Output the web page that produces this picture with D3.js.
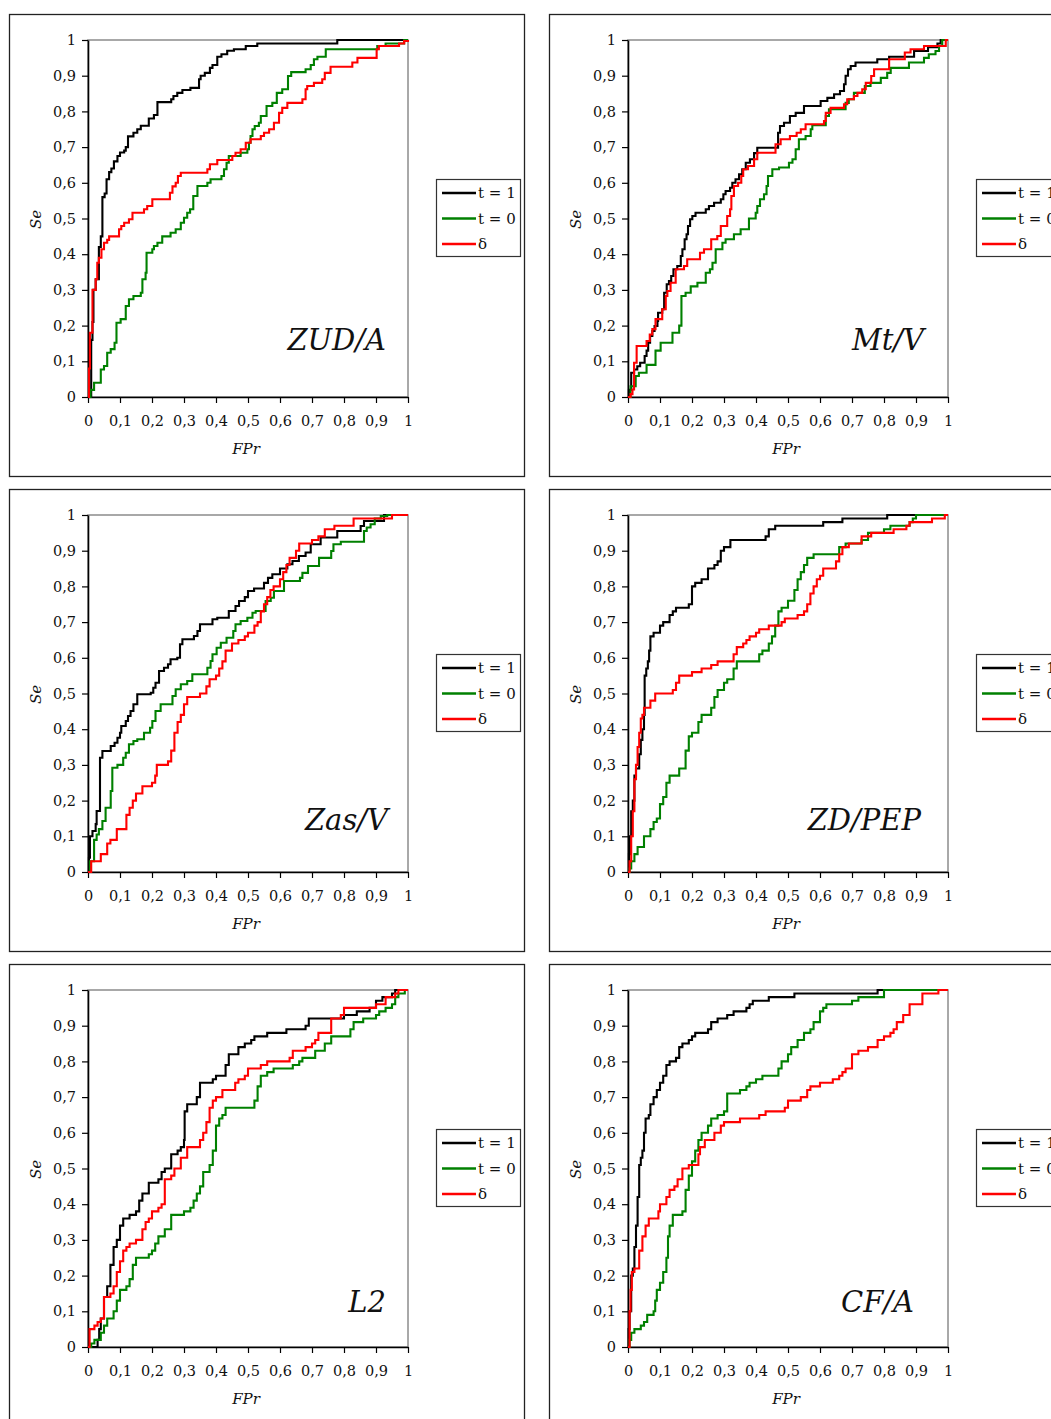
<!DOCTYPE html>
<html><head><meta charset="utf-8">
<script src="https://cdn.jsdelivr.net/npm/d3@7"></script>
<style>
html,body{margin:0;padding:0;background:#fff;}
svg{display:block;}
text{font-family:"DejaVu Serif",serif;fill:#111;}
</style></head>
<body><svg id="c" width="1051" height="1419"></svg>
<script>
// ---------- DATA ----------
const panelNames = ["ZUD/A","Mt/V","Zas/V","ZD/PEP","L2","CF/A"];
const seriesNames = ["t = 1","t = 0","\u03b4"];
const tickValues = [0,0.1,0.2,0.3,0.4,0.5,0.6,0.7,0.8,0.9,1];
const tickLabels = ["0","0,1","0,2","0,3","0,4","0,5","0,6","0,7","0,8","0,9","1"];
const xTitle = "FPr", yTitle = "Se";

// each point: [FPr, Se] where Se steps up at that FPr
const zudA_t1 = [[0,0],[0.010,0.16],[0.014,0.21],[0.017,0.30],[0.024,0.33],[0.034,0.42],[0.040,0.45],[0.045,0.56],[0.052,0.57],[0.058,0.61],[0.066,0.63],[0.073,0.64],[0.081,0.66],[0.092,0.675],[0.100,0.685],[0.113,0.69],[0.118,0.70],[0.125,0.73],[0.142,0.74],[0.154,0.75],[0.165,0.76],[0.19,0.78],[0.206,0.79],[0.217,0.826],[0.26,0.834],[0.267,0.843],[0.279,0.852],[0.295,0.86],[0.32,0.866],[0.347,0.89],[0.352,0.90],[0.365,0.908],[0.381,0.922],[0.389,0.93],[0.404,0.953],[0.417,0.96],[0.435,0.97],[0.456,0.974],[0.493,0.983],[0.529,0.99],[0.779,1.0],[1,1]];
const zudA_t0 = [[0,0],[0.008,0.02],[0.019,0.04],[0.040,0.077],[0.05,0.087],[0.06,0.124],[0.071,0.134],[0.083,0.152],[0.089,0.208],[0.102,0.218],[0.118,0.255],[0.128,0.274],[0.142,0.283],[0.165,0.292],[0.17,0.33],[0.18,0.348],[0.183,0.404],[0.201,0.414],[0.206,0.423],[0.217,0.432],[0.232,0.45],[0.258,0.46],[0.274,0.47],[0.29,0.488],[0.3,0.502],[0.31,0.516],[0.319,0.526],[0.329,0.563],[0.342,0.591],[0.373,0.6],[0.383,0.61],[0.417,0.619],[0.425,0.638],[0.433,0.656],[0.44,0.675],[0.477,0.684],[0.498,0.694],[0.503,0.712],[0.508,0.731],[0.514,0.75],[0.521,0.759],[0.534,0.768],[0.54,0.787],[0.558,0.815],[0.576,0.824],[0.59,0.852],[0.607,0.862],[0.625,0.899],[0.635,0.91],[0.68,0.918],[0.696,0.93],[0.706,0.946],[0.717,0.953],[0.743,0.974],[0.904,0.983],[0.93,0.99],[0.988,1],[1,1]];
const zudA_d = [[0,0],[0.003,0.08],[0.006,0.18],[0.014,0.30],[0.024,0.33],[0.029,0.376],[0.034,0.39],[0.042,0.414],[0.05,0.432],[0.06,0.44],[0.066,0.45],[0.097,0.47],[0.104,0.479],[0.113,0.488],[0.128,0.498],[0.139,0.516],[0.175,0.526],[0.185,0.535],[0.201,0.554],[0.256,0.572],[0.264,0.59],[0.274,0.60],[0.281,0.619],[0.29,0.628],[0.373,0.638],[0.381,0.652],[0.404,0.664],[0.451,0.675],[0.461,0.684],[0.477,0.694],[0.493,0.712],[0.508,0.722],[0.54,0.731],[0.55,0.74],[0.566,0.75],[0.581,0.768],[0.597,0.796],[0.607,0.81],[0.623,0.824],[0.67,0.834],[0.68,0.862],[0.685,0.871],[0.706,0.88],[0.732,0.89],[0.74,0.908],[0.758,0.925],[0.826,0.937],[0.842,0.95],[0.902,0.974],[0.909,0.983],[0.972,0.99],[0.988,0.997],[1,1]];

const mtV_t1 = [[0,0],[0.003,0.02],[0.010,0.068],[0.019,0.077],[0.029,0.086],[0.038,0.096],[0.052,0.115],[0.058,0.13],[0.063,0.152],[0.069,0.171],[0.076,0.185],[0.083,0.199],[0.092,0.213],[0.094,0.236],[0.107,0.246],[0.113,0.292],[0.121,0.316],[0.128,0.325],[0.135,0.339],[0.142,0.358],[0.154,0.367],[0.165,0.395],[0.17,0.414],[0.177,0.442],[0.183,0.456],[0.1875,0.479],[0.194,0.498],[0.201,0.507],[0.211,0.516],[0.243,0.526],[0.253,0.535],[0.269,0.544],[0.29,0.554],[0.298,0.568],[0.305,0.577],[0.319,0.586],[0.326,0.6],[0.336,0.61],[0.347,0.624],[0.357,0.638],[0.368,0.656],[0.381,0.666],[0.394,0.683],[0.404,0.698],[0.469,0.74],[0.475,0.759],[0.4875,0.768],[0.506,0.787],[0.524,0.796],[0.55,0.815],[0.602,0.829],[0.623,0.838],[0.644,0.848],[0.6625,0.857],[0.675,0.876],[0.68,0.9],[0.6875,0.918],[0.696,0.927],[0.711,0.937],[0.779,0.946],[0.816,0.953],[0.894,0.969],[0.9375,0.98],[0.967,0.99],[0.977,1],[1,1]];
const mtV_t0 = [[0,0],[0.008,0.03],[0.024,0.059],[0.034,0.068],[0.058,0.09],[0.086,0.13],[0.102,0.152],[0.139,0.18],[0.16,0.2],[0.167,0.283],[0.18,0.292],[0.196,0.31],[0.217,0.32],[0.243,0.348],[0.256,0.358],[0.264,0.376],[0.274,0.414],[0.295,0.432],[0.305,0.442],[0.331,0.456],[0.352,0.47],[0.378,0.5],[0.399,0.516],[0.404,0.535],[0.4125,0.554],[0.425,0.568],[0.433,0.591],[0.4375,0.619],[0.451,0.638],[0.472,0.643],[0.503,0.656],[0.514,0.666],[0.524,0.694],[0.534,0.722],[0.555,0.731],[0.571,0.75],[0.576,0.761],[0.618,0.787],[0.628,0.806],[0.68,0.824],[0.69,0.834],[0.706,0.852],[0.74,0.871],[0.758,0.88],[0.79,0.894],[0.81,0.908],[0.821,0.922],[0.878,0.937],[0.925,0.95],[0.94,0.96],[0.961,0.969],[0.972,0.983],[0.982,1],[1,1]];
const mtV_d = [[0,0],[0.008,0.008],[0.014,0.021],[0.019,0.096],[0.027,0.143],[0.058,0.157],[0.068,0.175],[0.076,0.19],[0.086,0.218],[0.107,0.246],[0.118,0.283],[0.123,0.297],[0.133,0.32],[0.149,0.358],[0.175,0.367],[0.185,0.386],[0.225,0.404],[0.2375,0.414],[0.26,0.442],[0.279,0.451],[0.29,0.479],[0.31,0.507],[0.319,0.526],[0.323,0.563],[0.331,0.591],[0.344,0.60],[0.354,0.619],[0.36,0.638],[0.375,0.647],[0.394,0.666],[0.404,0.684],[0.461,0.708],[0.477,0.722],[0.506,0.731],[0.527,0.74],[0.54,0.75],[0.555,0.764],[0.6125,0.773],[0.618,0.796],[0.633,0.81],[0.675,0.82],[0.685,0.834],[0.706,0.843],[0.717,0.852],[0.732,0.862],[0.743,0.88],[0.76,0.899],[0.769,0.918],[0.816,0.946],[0.865,0.965],[0.883,0.974],[0.925,0.983],[0.993,1],[1,1]];

const zasV_t1 = [[0,0],[0.003,0.04],[0.006,0.10],[0.014,0.115],[0.024,0.134],[0.027,0.171],[0.0375,0.32],[0.045,0.339],[0.071,0.353],[0.083,0.362],[0.092,0.376],[0.1,0.39],[0.104,0.409],[0.118,0.423],[0.125,0.437],[0.133,0.451],[0.142,0.47],[0.154,0.498],[0.196,0.502],[0.204,0.516],[0.211,0.53],[0.222,0.563],[0.2375,0.572],[0.25,0.582],[0.258,0.596],[0.279,0.6],[0.2875,0.638],[0.295,0.652],[0.331,0.661],[0.342,0.675],[0.35,0.694],[0.389,0.708],[0.404,0.712],[0.44,0.731],[0.461,0.745],[0.472,0.759],[0.49,0.77],[0.5,0.787],[0.519,0.794],[0.55,0.81],[0.5625,0.824],[0.576,0.834],[0.6,0.85],[0.623,0.862],[0.639,0.871],[0.659,0.885],[0.68,0.895],[0.696,0.918],[0.727,0.937],[0.779,0.955],[0.852,0.969],[0.8625,0.983],[0.925,1],[1,1]];
const zasV_t0 = [[0,0],[0.006,0.03],[0.019,0.09],[0.027,0.105],[0.034,0.12],[0.045,0.143],[0.055,0.18],[0.071,0.227],[0.076,0.292],[0.092,0.30],[0.11,0.32],[0.118,0.334],[0.128,0.358],[0.142,0.367],[0.154,0.372],[0.175,0.39],[0.194,0.404],[0.201,0.423],[0.211,0.451],[0.227,0.47],[0.264,0.493],[0.274,0.512],[0.29,0.526],[0.31,0.535],[0.326,0.554],[0.373,0.572],[0.383,0.591],[0.389,0.61],[0.402,0.628],[0.415,0.642],[0.433,0.656],[0.454,0.675],[0.461,0.694],[0.477,0.703],[0.498,0.712],[0.514,0.726],[0.524,0.731],[0.555,0.759],[0.571,0.768],[0.581,0.787],[0.6125,0.815],[0.6625,0.824],[0.67,0.838],[0.6875,0.857],[0.722,0.88],[0.76,0.899],[0.767,0.918],[0.79,0.925],[0.8625,0.955],[0.871,0.965],[0.883,0.974],[0.896,0.99],[0.915,0.997],[0.935,1],[1,1]];
const zasV_d = [[0,0],[0.01,0.03],[0.04,0.05],[0.06,0.08],[0.07,0.09],[0.09,0.12],[0.12,0.16],[0.13,0.18],[0.14,0.20],[0.15,0.22],[0.17,0.24],[0.20,0.25],[0.21,0.27],[0.215,0.30],[0.25,0.31],[0.26,0.34],[0.27,0.39],[0.28,0.42],[0.29,0.44],[0.30,0.47],[0.31,0.49],[0.35,0.50],[0.37,0.52],[0.38,0.54],[0.40,0.55],[0.41,0.57],[0.42,0.59],[0.43,0.62],[0.45,0.64],[0.47,0.65],[0.49,0.66],[0.50,0.67],[0.52,0.69],[0.53,0.70],[0.54,0.73],[0.55,0.75],[0.56,0.77],[0.57,0.79],[0.58,0.80],[0.60,0.82],[0.61,0.84],[0.62,0.86],[0.63,0.88],[0.65,0.90],[0.66,0.92],[0.70,0.93],[0.72,0.94],[0.74,0.96],[0.77,0.97],[0.83,0.99],[0.95,1],[1,1]];

const zdPEP_t1 = [[0,0],[0.003,0.05],[0.006,0.1],[0.01,0.17],[0.015,0.2],[0.02,0.27],[0.025,0.29],[0.035,0.33],[0.04,0.37],[0.045,0.40],[0.05,0.44],[0.052,0.55],[0.057,0.57],[0.062,0.59],[0.066,0.62],[0.07,0.66],[0.08,0.67],[0.1,0.69],[0.11,0.70],[0.13,0.72],[0.14,0.73],[0.15,0.74],[0.19,0.75],[0.2,0.80],[0.21,0.81],[0.23,0.82],[0.25,0.85],[0.27,0.86],[0.28,0.87],[0.29,0.90],[0.30,0.91],[0.32,0.93],[0.43,0.94],[0.44,0.96],[0.46,0.97],[0.61,0.98],[0.67,0.99],[0.81,1],[1,1]];
const zdPEP_t0 = [[0,0],[0.005,0.01],[0.01,0.03],[0.02,0.05],[0.03,0.07],[0.05,0.1],[0.07,0.12],[0.08,0.14],[0.09,0.15],[0.1,0.19],[0.11,0.21],[0.12,0.25],[0.13,0.27],[0.16,0.29],[0.18,0.34],[0.19,0.38],[0.2,0.39],[0.22,0.42],[0.23,0.44],[0.26,0.46],[0.27,0.49],[0.28,0.51],[0.3,0.53],[0.31,0.54],[0.33,0.57],[0.34,0.59],[0.41,0.61],[0.42,0.62],[0.44,0.64],[0.45,0.66],[0.46,0.69],[0.47,0.73],[0.48,0.74],[0.5,0.76],[0.52,0.79],[0.53,0.82],[0.54,0.84],[0.55,0.86],[0.56,0.88],[0.58,0.89],[0.66,0.91],[0.68,0.92],[0.73,0.93],[0.75,0.95],[0.8,0.96],[0.82,0.97],[0.88,0.98],[0.89,0.99],[0.9,1],[1,1]];
const zdPEP_d = [[0,0],[0.005,0.03],[0.01,0.1],[0.015,0.17],[0.02,0.26],[0.025,0.30],[0.03,0.35],[0.035,0.39],[0.04,0.43],[0.045,0.44],[0.05,0.46],[0.07,0.48],[0.085,0.50],[0.14,0.51],[0.15,0.53],[0.16,0.55],[0.2,0.56],[0.23,0.57],[0.26,0.58],[0.28,0.59],[0.33,0.61],[0.34,0.63],[0.36,0.64],[0.37,0.65],[0.38,0.66],[0.4,0.67],[0.41,0.68],[0.44,0.69],[0.48,0.70],[0.49,0.71],[0.53,0.72],[0.55,0.73],[0.56,0.75],[0.57,0.78],[0.58,0.80],[0.59,0.82],[0.6,0.83],[0.61,0.85],[0.65,0.87],[0.66,0.89],[0.67,0.91],[0.69,0.92],[0.73,0.94],[0.76,0.95],[0.83,0.96],[0.87,0.97],[0.88,0.98],[0.95,0.99],[0.99,1],[1,1]];

const l2_t1 = [[0,0],[0.03,0.02],[0.035,0.05],[0.04,0.08],[0.05,0.14],[0.06,0.17],[0.07,0.23],[0.08,0.28],[0.09,0.30],[0.1,0.34],[0.11,0.36],[0.13,0.37],[0.15,0.38],[0.16,0.41],[0.17,0.43],[0.19,0.46],[0.22,0.47],[0.23,0.49],[0.24,0.50],[0.26,0.54],[0.28,0.55],[0.29,0.56],[0.3,0.58],[0.302,0.66],[0.31,0.68],[0.34,0.70],[0.35,0.74],[0.39,0.75],[0.4,0.76],[0.43,0.79],[0.44,0.82],[0.47,0.84],[0.49,0.85],[0.51,0.86],[0.52,0.87],[0.56,0.88],[0.62,0.89],[0.68,0.90],[0.69,0.92],[0.8,0.93],[0.84,0.94],[0.88,0.95],[0.9,0.97],[0.92,0.98],[0.95,0.99],[0.96,1],[1,1]];
const l2_t0 = [[0,0],[0.01,0.01],[0.02,0.02],[0.04,0.04],[0.05,0.06],[0.06,0.08],[0.08,0.10],[0.09,0.13],[0.1,0.16],[0.12,0.17],[0.13,0.19],[0.14,0.23],[0.15,0.25],[0.19,0.26],[0.2,0.27],[0.21,0.29],[0.22,0.31],[0.24,0.33],[0.26,0.37],[0.3,0.38],[0.32,0.39],[0.33,0.41],[0.34,0.43],[0.35,0.45],[0.36,0.49],[0.38,0.51],[0.39,0.55],[0.4,0.62],[0.41,0.64],[0.42,0.65],[0.43,0.67],[0.52,0.69],[0.53,0.73],[0.54,0.76],[0.56,0.77],[0.58,0.78],[0.64,0.79],[0.66,0.80],[0.67,0.81],[0.71,0.83],[0.74,0.85],[0.76,0.87],[0.82,0.89],[0.83,0.91],[0.86,0.92],[0.9,0.93],[0.91,0.94],[0.93,0.95],[0.95,0.96],[0.96,0.98],[0.97,0.99],[0.99,1],[1,1]];
const l2_d = [[0,0],[0.005,0.05],[0.02,0.06],[0.03,0.07],[0.04,0.08],[0.05,0.14],[0.07,0.15],[0.08,0.17],[0.09,0.21],[0.1,0.24],[0.11,0.27],[0.12,0.28],[0.13,0.29],[0.15,0.30],[0.17,0.33],[0.18,0.35],[0.19,0.36],[0.2,0.38],[0.22,0.39],[0.23,0.40],[0.24,0.47],[0.26,0.48],[0.27,0.50],[0.29,0.53],[0.31,0.56],[0.35,0.58],[0.36,0.60],[0.37,0.63],[0.38,0.67],[0.39,0.69],[0.4,0.70],[0.42,0.72],[0.46,0.74],[0.47,0.75],[0.49,0.76],[0.5,0.78],[0.54,0.79],[0.56,0.80],[0.63,0.81],[0.64,0.83],[0.68,0.84],[0.7,0.85],[0.71,0.86],[0.72,0.88],[0.76,0.92],[0.79,0.93],[0.8,0.95],[0.9,0.96],[0.93,0.98],[0.96,0.99],[0.97,1],[1,1]];

const cfA_t1 = [[0,0],[0.002,0.05],[0.005,0.1],[0.01,0.2],[0.015,0.22],[0.02,0.28],[0.025,0.34],[0.03,0.42],[0.035,0.51],[0.04,0.53],[0.045,0.55],[0.05,0.6],[0.055,0.64],[0.065,0.65],[0.07,0.68],[0.08,0.70],[0.09,0.72],[0.1,0.74],[0.11,0.76],[0.12,0.79],[0.13,0.80],[0.15,0.81],[0.16,0.84],[0.17,0.85],[0.19,0.86],[0.2,0.87],[0.21,0.88],[0.25,0.89],[0.26,0.91],[0.28,0.92],[0.31,0.93],[0.33,0.94],[0.37,0.95],[0.38,0.96],[0.39,0.97],[0.44,0.98],[0.52,0.99],[0.78,1],[1,1]];
const cfA_t0 = [[0,0],[0.005,0.02],[0.01,0.04],[0.02,0.05],[0.04,0.06],[0.05,0.07],[0.06,0.09],[0.08,0.10],[0.085,0.13],[0.09,0.16],[0.1,0.18],[0.11,0.21],[0.12,0.25],[0.125,0.31],[0.13,0.34],[0.14,0.37],[0.17,0.38],[0.18,0.44],[0.19,0.48],[0.2,0.52],[0.21,0.55],[0.22,0.58],[0.23,0.60],[0.25,0.62],[0.26,0.64],[0.28,0.65],[0.3,0.66],[0.31,0.71],[0.35,0.72],[0.37,0.73],[0.38,0.74],[0.4,0.75],[0.42,0.76],[0.47,0.78],[0.48,0.80],[0.5,0.82],[0.51,0.84],[0.53,0.86],[0.55,0.88],[0.57,0.89],[0.58,0.91],[0.6,0.94],[0.61,0.95],[0.62,0.96],[0.7,0.97],[0.72,0.98],[0.8,1],[1,1]];
const cfA_d = [[0,0],[0.005,0.1],[0.008,0.16],[0.012,0.21],[0.02,0.22],[0.035,0.27],[0.045,0.31],[0.055,0.34],[0.065,0.36],[0.095,0.38],[0.1,0.40],[0.12,0.42],[0.13,0.44],[0.145,0.45],[0.155,0.47],[0.17,0.50],[0.19,0.51],[0.22,0.54],[0.225,0.56],[0.24,0.58],[0.27,0.60],[0.29,0.62],[0.3,0.63],[0.35,0.64],[0.41,0.65],[0.43,0.66],[0.49,0.67],[0.5,0.69],[0.54,0.70],[0.56,0.72],[0.57,0.73],[0.6,0.74],[0.64,0.75],[0.66,0.76],[0.67,0.77],[0.68,0.78],[0.7,0.82],[0.72,0.83],[0.75,0.84],[0.78,0.86],[0.8,0.87],[0.82,0.88],[0.83,0.89],[0.84,0.91],[0.86,0.93],[0.88,0.96],[0.92,0.99],[0.97,1],[1,1]];

const panelSeries = [
  [zudA_t1, zudA_t0, zudA_d],
  [mtV_t1, mtV_t0, mtV_d],
  [zasV_t1, zasV_t0, zasV_d],
  [zdPEP_t1, zdPEP_t0, zdPEP_d],
  [l2_t1, l2_t0, l2_d],
  [cfA_t1, cfA_t0, cfA_d]
];

// ---------- STYLE / LAYOUT ----------
const colors = ["#000000", "#008000", "#ff0000"];
const colStep = 540, rowStep = 475;
const plotW = 320, plotH = 357;
const plotLeft = 88, plotTop = 40;
// label anchor (right edge, baseline) relative to plot origin
const labelPos = [[298,310],[296,310],[300,315],[293,315],[298,322],[286,322]];

const svg = d3.select("#c");
const x = d3.scaleLinear().domain([0,1]).range([0, plotW]);
const y = d3.scaleLinear().domain([0,1]).range([plotH, 0]);
const line = d3.line().x(d => x(d[0])).y(d => y(d[1])).curve(d3.curveStepAfter);

panelNames.forEach((name, i) => {
  const col = i % 2, row = Math.floor(i / 2);
  const ox = col * colStep, oy = row * rowStep;
  const g = svg.append("g").attr("transform", `translate(${ox},${oy})`);

  // outer frame
  g.append("rect").attr("x", 9.5).attr("y", 14.5).attr("width", 515).attr("height", 462)
    .attr("fill", "none").attr("stroke", "#222").attr("stroke-width", 1.3);

  const p = g.append("g").attr("transform", `translate(${plotLeft},${plotTop})`);
  // plot frame (grey top/right)
  p.append("rect").attr("x", 0).attr("y", 0).attr("width", plotW).attr("height", plotH)
    .attr("fill", "#fff").attr("stroke", "#8c8c8c").attr("stroke-width", 1.5);

  const fmt = (d) => tickLabels[tickValues.indexOf(d)];
  const ax = p.append("g").attr("transform", `translate(0,${plotH})`)
    .call(d3.axisBottom(x).tickValues(tickValues).tickFormat(fmt).tickSize(6).tickSizeOuter(0).tickPadding(13));
  const ay = p.append("g")
    .call(d3.axisLeft(y).tickValues(tickValues).tickFormat(fmt).tickSize(6).tickSizeOuter(0).tickPadding(6));
  [ax, ay].forEach(a => {
    a.select(".domain").attr("stroke", "#000").attr("stroke-width", 1.6);
    a.selectAll(".tick line").attr("stroke", "#000").attr("stroke-width", 1.2);
    a.selectAll(".tick text").attr("font-family", "DejaVu Serif").attr("font-size", 14.5).attr("fill", "#111");
  });

  // curves
  panelSeries[i].forEach((s, k) => {
    p.append("path").datum(s).attr("d", line)
      .attr("fill", "none").attr("stroke", colors[k]).attr("stroke-width", 2.1)
      .attr("stroke-linejoin", "miter");
  });

  // panel label
  p.append("text").attr("x", labelPos[i][0]).attr("y", labelPos[i][1])
    .attr("text-anchor", "end").attr("font-size", 29).attr("font-style", "italic").text(name);

  // axis titles
  g.append("text").attr("x", plotLeft + plotW / 2 - 2).attr("y", 454)
    .attr("text-anchor", "middle").attr("font-size", 15).attr("font-style", "italic").text(xTitle);
  g.append("text").attr("transform", `translate(41,${plotTop + plotH / 2 + 1}) rotate(-90)`)
    .attr("text-anchor", "middle").attr("font-size", 15).attr("font-style", "italic").text(yTitle);

  // legend
  const lg = g.append("g").attr("transform", "translate(436,179)");
  lg.append("rect").attr("x", 0.5).attr("y", 0.5).attr("width", 84).attr("height", 77)
    .attr("fill", "#fff").attr("stroke", "#333").attr("stroke-width", 1.2);
  seriesNames.forEach((sn, k) => {
    const yy = 14 + k * 25.5;
    lg.append("line").attr("x1", 6).attr("x2", 40).attr("y1", yy).attr("y2", yy)
      .attr("stroke", colors[k]).attr("stroke-width", 2.5);
    lg.append("text").attr("x", 42).attr("y", yy).attr("dy", "0.36em")
      .attr("font-size", 15).text(sn);
  });
});
</script></body></html>
